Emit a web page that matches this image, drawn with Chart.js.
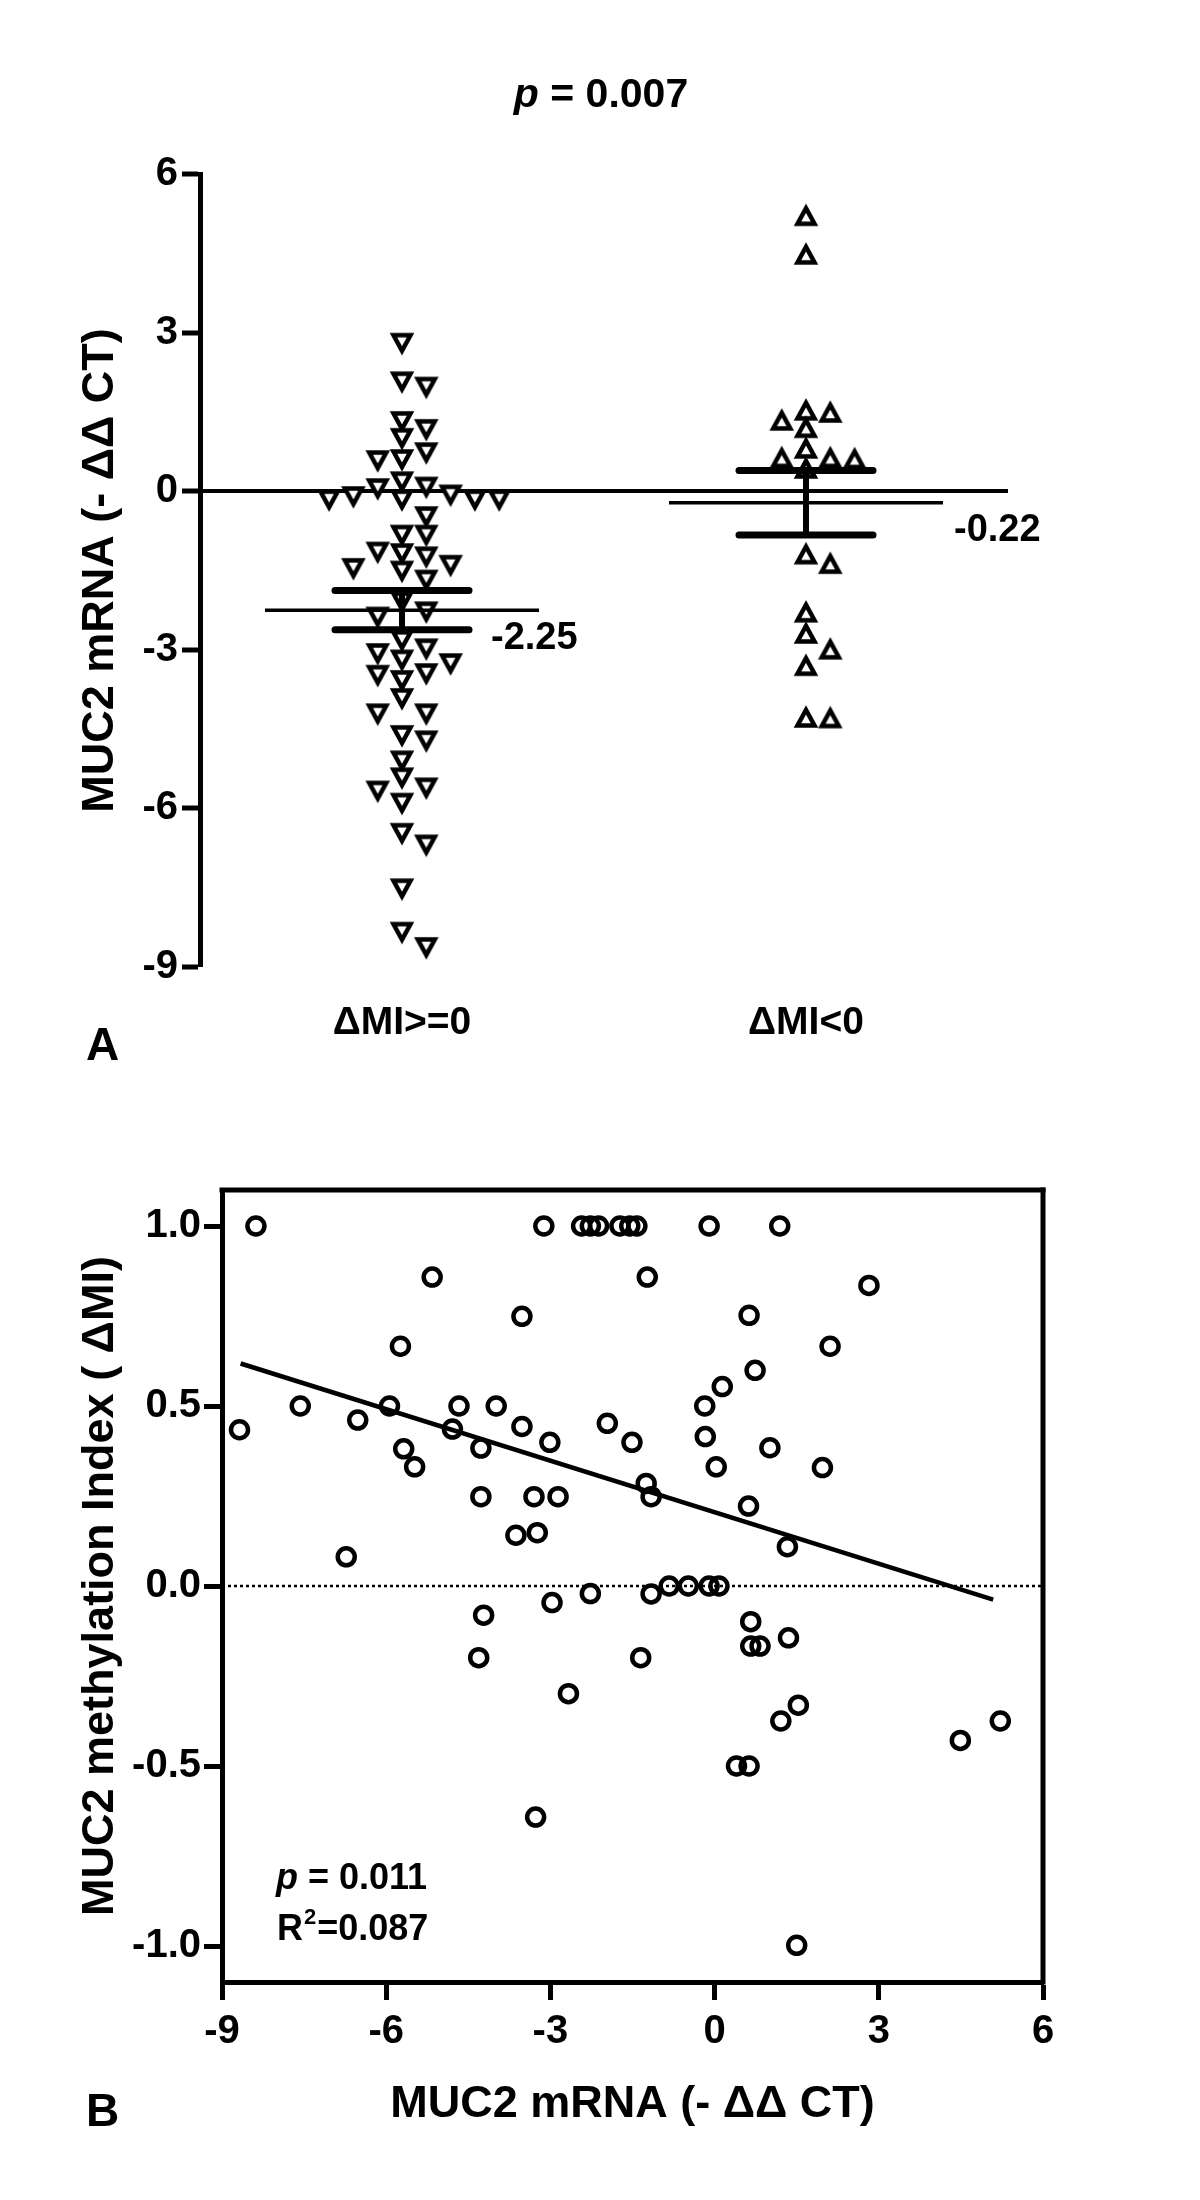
<!DOCTYPE html>
<html>
<head>
<meta charset="utf-8">
<script src="https://cdn.jsdelivr.net/npm/chart.js@4.4.1/dist/chart.umd.min.js"></script>
<style>
  html, body { margin: 0; padding: 0; background: #fff; }
  #wrap { position: relative; width: 1200px; height: 2200px; }
  canvas { position: absolute; left: 0; }
  #chartA { top: 0; }
  #chartB { top: 1100px; }
</style>
</head>
<body>
<div id="wrap">
  <canvas id="chartA" width="1200" height="1100"></canvas>
  <canvas id="chartB" width="1200" height="1100"></canvas>
</div>
<script>
'use strict';

// panel A : MUC2 mRNA (-ddCT) split by change of methylation index
var groupLabels = ['\u0394MI>=0', '\u0394MI<0'];
var mrnaMiUp = [2.81, 2.08, 1.98, 1.33, 1.18, 1.01, 0.74, 0.61, 0.59, 0.19, 0.09, 0.06,
  -0.06, -0.09, -0.15, -0.15, -0.15, -0.15, -0.47, -0.82, -0.82, -1.14, -1.17, -1.23,
  -1.39, -1.45, -1.50, -1.67, -2.08, -2.27, -2.37, -2.81, -2.97, -3.06, -3.18, -3.25,
  -3.44, -3.47, -3.57, -3.91, -4.20, -4.20, -4.61, -4.71, -5.09, -5.41, -5.60, -5.66,
  -5.89, -6.46, -6.68, -7.51, -8.33, -8.62];
var mrnaMiDown = [5.20, 4.47, 1.52, 1.48, 1.33, 1.19, 0.80, 0.62, 0.62, 0.60, 0.42,
  -1.20, -1.38, -2.30, -2.70, -3.00, -3.31, -4.29, -4.30];
var groupMeans = [-2.25, -0.22];
var groupSem = [0.37, 0.61];
var yTicksA = [-9, -6, -3, 0, 3, 6];
var pValueA = '0.007';

// panel B : methylation index vs mRNA
var mrnaB = [-8.38, -8.68, -7.57, -6.52, -6.73, -5.94, -5.16, -5.74, -5.68, -5.48,
  -4.79, -4.67, -4.27, -4.27, -3.99, -3.52, -3.52, -3.63, -3.24, -3.30,
  -3.01, -2.86, -3.12, -2.43, -2.27, -2.12, -1.73, -1.55, -1.42, -1.96,
  -1.51, -1.23, -1.25, -1.16, -0.18, -0.17, 0.14, 0.03, -0.10, 1.19,
  0.63, 0.74, 0.62, 1.01, 2.11, 1.97, 2.82, 1.33, -0.83, -0.48,
  -0.10, 0.08, -2.27, -1.16, -2.97, -4.22, -4.31, -2.67, -1.35, -3.27,
  0.40, 0.63, 0.66, 0.66, 0.83, 1.35, 1.21, 1.53, 1.50, 4.49, 5.22];
var methylB = [1.0, 0.434, 0.50, 0.461, 0.081, 0.50, 0.858, 0.666, 0.381, 0.331,
  0.436, 0.50, 0.383, 0.248, 0.50, 0.749, 0.443, 0.141, 0.148, 0.248,
  0.399, 0.248, 1.0, 1.0, 1.0, 1.0, 1.0, 1.0, 1.0, 0.452,
  0.399, 0.858, 0.285, 0.248, 0.50, 0.415, 0.554, 0.331, 1.0, 1.0,
  0.752, 0.599, 0.222, 0.384, 0.666, 0.329, 0.835, 0.109, 0.0, 0.0,
  0.0, 0.0, -0.021, -0.022, -0.046, -0.081, -0.199, -0.299, -0.199, -0.642,
  -0.5, -0.5, -0.099, -0.167, -0.167, -0.144, -0.375, -0.331, -0.998, -0.429, -0.375];
var fitX = [-8.66, 5.09];
var fitY = [0.618, -0.038];
var xTicksB = [-9, -6, -3, 0, 3, 6];
var yTicksB = [-1.0, -0.5, 0.0, 0.5, 1.0];
var pValueB = '0.011';
var r2B = '0.087';


var fontFamily = '"Liberation Sans", Arial, Helvetica, sans-serif';
var font = function(size, italic){
  return (italic ? 'italic ' : '') + 'bold ' + size + 'px ' + fontFamily;
};

Chart.defaults.font.family = fontFamily;
Chart.defaults.font.weight = 'bold';
Chart.defaults.color = '#000';


//
//  helpers
//
var makeTriangle = function(down){
  var c = document.createElement('canvas');
  c.width = 28;
  c.height = 28;
  var g = c.getContext('2d');
  g.lineWidth = 4.5;
  g.strokeStyle = '#000';
  g.fillStyle = '#fff';
  g.beginPath();
  if (down) {
    g.moveTo(5.5, 6.5); g.lineTo(22.5, 6.5); g.lineTo(14, 22);
  } else {
    g.moveTo(5.5, 21.5); g.lineTo(22.5, 21.5); g.lineTo(14, 6);
  }
  g.closePath();
  g.fill();
  g.stroke();
  return c;
};

// spread points of one group sideways so they do not sit on each other
var swarm = function(values, center, step, gap){
  var placed = [];
  var cols = [];
  var order = values.map(function(v, i){ return i; });
  order.sort(function(a, b){ return values[b] - values[a]; });
  order.forEach(function(i){
    var v = values[i];
    for (var k = 0; ; k++) {
      var c = k === 0 ? 0 : (k % 2 ? (k + 1) / 2 : -k / 2);
      var hit = placed.some(function(p){ return p.c === c && Math.abs(p.v - v) < gap; });
      if (!hit) {
        placed.push({c: c, v: v});
        cols[i] = c;
        break;
      }
    }
  });
  return values.map(function(v, i){ return {x: center + cols[i] * step, y: v}; });
};

var drawP = function(ctx, x, y, value, size){
  ctx.font = font(size, true);
  ctx.fillText('p', x, y);
  var w = ctx.measureText('p').width;
  ctx.font = font(size);
  ctx.fillText(' = ' + value, x + w, y);
};

var widthP = function(ctx, value, size){
  ctx.font = font(size, true);
  var w = ctx.measureText('p').width;
  ctx.font = font(size);
  return w + ctx.measureText(' = ' + value).width;
};

var line = function(ctx, x1, y1, x2, y2){
  ctx.beginPath();
  ctx.moveTo(x1, y1);
  ctx.lineTo(x2, y2);
  ctx.stroke();
};


//
//  PANEL A
//
var xMinA = 0.5, xMaxA = 2.5;
var colStep = 24.3 * (xMaxA - xMinA) / 808;

var annotateA = {
  id: 'annotateA',
  afterDatasetsDraw: function(chart){
    var ctx = chart.ctx, x = chart.scales.x, y = chart.scales.y;
    var labelDx = [89, 148];
    ctx.save();
    ctx.strokeStyle = '#000';
    ctx.fillStyle = '#000';
    groupMeans.forEach(function(m, i){
      var cx = x.getPixelForValue(i + 1);
      var my = y.getPixelForValue(m);
      var hi = y.getPixelForValue(m + groupSem[i]);
      var lo = y.getPixelForValue(m - groupSem[i]);
      ctx.lineCap = 'butt';
      ctx.lineWidth = 3.5;
      line(ctx, cx - 137, my, cx + 137, my);
      ctx.lineWidth = 6;
      line(ctx, cx, hi, cx, lo);
      ctx.lineCap = 'round';
      ctx.lineWidth = 7;
      line(ctx, cx - 67, hi, cx + 67, hi);
      line(ctx, cx - 67, lo, cx + 67, lo);
      ctx.font = font(38);
      ctx.textAlign = 'left';
      ctx.textBaseline = 'middle';
      ctx.fillText(m.toFixed(2), cx + labelDx[i], my + 28);
    });
    ctx.restore();
  },
  afterDraw: function(chart){
    var ctx = chart.ctx;
    ctx.save();
    ctx.fillStyle = '#000';
    ctx.textAlign = 'left';
    ctx.textBaseline = 'alphabetic';
    var w = widthP(ctx, pValueA, 41);
    drawP(ctx, 601 - w / 2, 107, pValueA, 41);
    ctx.font = font(46);
    ctx.fillText('A', 86, 1060);
    ctx.restore();
  }
};

var createChartA = function(){
  var canvas = document.getElementById('chartA');
  return new Chart(canvas, {
    type: 'scatter',
    data: {
      datasets: [{
        data: swarm(mrnaMiUp, 1, colStep, 0.32),
        pointStyle: makeTriangle(true),
        pointRadius: 10,
        clip: false
      }, {
        data: swarm(mrnaMiDown, 2, colStep, 0.32),
        pointStyle: makeTriangle(false),
        pointRadius: 10,
        clip: false
      }]
    },
    options: {
      responsive: false,
      animation: false,
      layout: { padding: { top: 174, right: 192, bottom: 0, left: 0 } },
      plugins: { legend: { display: false }, tooltip: { enabled: false } },
      scales: {
        x: {
          type: 'linear',
          min: xMinA,
          max: xMaxA,
          afterBuildTicks: function(axis){
            axis.ticks = groupLabels.map(function(l, i){ return {value: i + 1}; });
          },
          afterFit: function(axis){ axis.height = 133; },
          border: { display: false },
          grid: { display: false, drawTicks: false },
          ticks: {
            padding: 33,
            maxRotation: 0,
            font: { size: 39, weight: 'bold' },
            color: '#000',
            callback: function(v){ return groupLabels[v - 1]; }
          }
        },
        y: {
          min: -9,
          max: 6,
          afterBuildTicks: function(axis){
            axis.ticks = yTicksA.map(function(v){ return {value: v}; });
          },
          afterFit: function(axis){ axis.width = 200; },
          border: { color: '#000', width: 5 },
          grid: {
            color: function(c){ return c.tick && c.tick.value === 0 ? '#000' : 'rgba(0,0,0,0)'; },
            lineWidth: function(c){ return c.tick && c.tick.value === 0 ? 4 : 0; },
            tickColor: '#000',
            tickWidth: 5,
            tickLength: 18
          },
          ticks: {
            padding: 4,
            font: { size: 40, weight: 'bold' },
            color: '#000',
            callback: function(v){ return String(v); }
          },
          title: {
            display: true,
            text: 'MUC2 mRNA (- \u0394\u0394 CT)',
            font: { size: 45, weight: 'bold' },
            color: '#000',
            padding: { top: 74, bottom: 0 }
          }
        }
      }
    },
    plugins: [annotateA]
  });
};


//
//  PANEL B
//
var annotateB = {
  id: 'annotateB',
  afterDraw: function(chart){
    var ctx = chart.ctx, a = chart.chartArea;
    ctx.save();
    ctx.strokeStyle = '#000';
    ctx.lineWidth = 5;
    ctx.lineCap = 'square';
    line(ctx, a.left, a.top, a.right, a.top);
    line(ctx, a.right, a.top, a.right, a.bottom);
    ctx.fillStyle = '#000';
    ctx.textAlign = 'left';
    ctx.textBaseline = 'alphabetic';
    drawP(ctx, 276, 789, pValueB, 36);
    ctx.font = font(36);
    ctx.fillText('R', 277, 840);
    var rw = ctx.measureText('R').width;
    ctx.font = font(22);
    ctx.fillText('2', 277 + rw + 1, 824);
    var sw = ctx.measureText('2').width;
    ctx.font = font(36);
    ctx.fillText('=' + r2B, 277 + rw + sw + 2, 840);
    ctx.font = font(46);
    ctx.fillText('B', 86, 1026);
    ctx.restore();
  }
};

var createChartB = function(){
  var canvas = document.getElementById('chartB');
  var points = mrnaB.map(function(v, i){ return {x: v, y: methylB[i]}; });
  var fit = fitX.map(function(v, i){ return {x: v, y: fitY[i]}; });
  var zero = [{x: xTicksB[0], y: 0}, {x: xTicksB[xTicksB.length - 1], y: 0}];
  return new Chart(canvas, {
    type: 'scatter',
    data: {
      datasets: [{
        type: 'line',
        data: zero,
        borderColor: '#000',
        borderWidth: 2.5,
        borderDash: [3, 3],
        pointRadius: 0
      }, {
        type: 'line',
        data: fit,
        borderColor: '#000',
        borderWidth: 4.5,
        pointRadius: 0
      }, {
        data: points,
        pointStyle: 'circle',
        pointRadius: 8.5,
        borderWidth: 4.5,
        borderColor: '#000',
        backgroundColor: 'rgba(0,0,0,0)',
        clip: false
      }]
    },
    options: {
      responsive: false,
      animation: false,
      layout: { padding: { top: 90, right: 157, bottom: 0, left: 0 } },
      plugins: { legend: { display: false }, tooltip: { enabled: false } },
      scales: {
        x: {
          type: 'linear',
          min: -9,
          max: 6,
          afterBuildTicks: function(axis){
            axis.ticks = xTicksB.map(function(v){ return {value: v}; });
          },
          afterFit: function(axis){ axis.height = 218; },
          border: { color: '#000', width: 5 },
          grid: { drawOnChartArea: false, tickColor: '#000', tickWidth: 5, tickLength: 18 },
          ticks: {
            padding: 8,
            maxRotation: 0,
            font: { size: 40, weight: 'bold' },
            color: '#000',
            callback: function(v){ return String(v); }
          },
          title: {
            display: true,
            text: 'MUC2 mRNA (- \u0394\u0394 CT)',
            font: { size: 45, weight: 'bold' },
            color: '#000',
            padding: { top: 0, bottom: 68 }
          }
        },
        y: {
          min: -1.1,
          max: 1.1,
          afterBuildTicks: function(axis){
            axis.ticks = yTicksB.map(function(v){ return {value: v}; });
          },
          afterFit: function(axis){ axis.width = 222; },
          border: { color: '#000', width: 5 },
          grid: { drawOnChartArea: false, tickColor: '#000', tickWidth: 5, tickLength: 18 },
          ticks: {
            padding: 3,
            font: { size: 40, weight: 'bold' },
            color: '#000',
            callback: function(v){ return v.toFixed(1); }
          },
          title: {
            display: true,
            text: 'MUC2 methylation Index ( \u0394MI)',
            font: { size: 45, weight: 'bold' },
            color: '#000',
            padding: { top: 74, bottom: 0 }
          }
        }
      }
    },
    plugins: [annotateB]
  });
};


!function(){
  createChartA();
  createChartB();
}();
</script>
</body>
</html>
